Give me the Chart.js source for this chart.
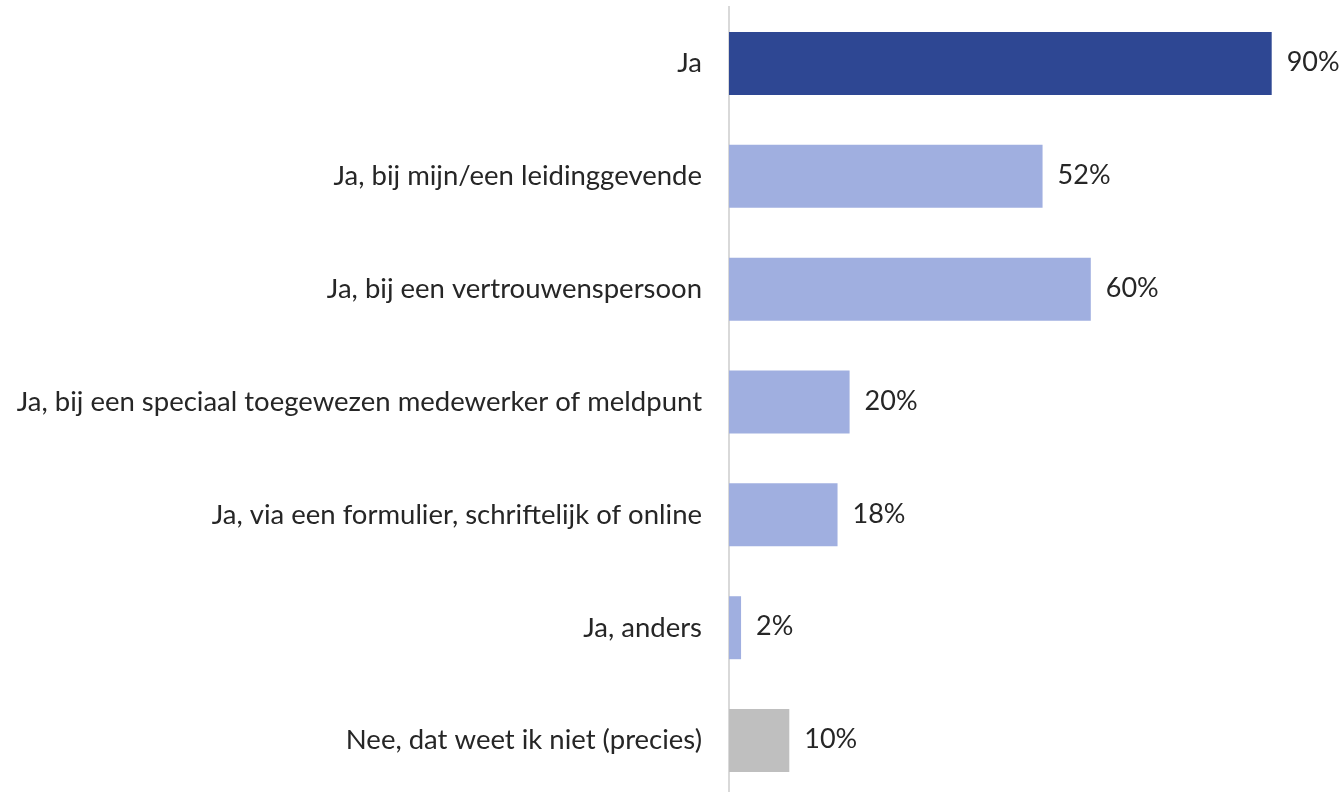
<!DOCTYPE html>
<html>
<head>
<meta charset="utf-8">
<script src="https://cdn.jsdelivr.net/npm/chart.js@4.4.1/dist/chart.umd.min.js"></script>
<style>
  html, body { margin: 0; padding: 0; background: #ffffff; overflow: hidden; }
  #wrap { width: 1342px; height: 797px; position: relative; }
</style>
</head>
<body>
<div id="wrap"><canvas id="chart"></canvas></div>
<script>
const categories = [
  'Ja',
  'Ja, bij mijn/een leidinggevende',
  'Ja, bij een vertrouwenspersoon',
  'Ja, bij een speciaal toegewezen medewerker of meldpunt',
  'Ja, via een formulier, schriftelijk of online',
  'Ja, anders',
  'Nee, dat weet ik niet (precies)'
];
const percentages = [90, 52, 60, 20, 18, 2, 10];
const barColors = ['#2E4793', '#A0AFE0', '#A0AFE0', '#A0AFE0', '#A0AFE0', '#A0AFE0', '#BFBFBF'];

const FONT = 'Lato, "Open Sans", sans-serif';
const FONT_SIZE = 27.5;
const TEXT = '#262626';

// Writes "NN%" just past the end of each bar
const valueLabels = {
  id: 'valueLabels',
  afterDatasetsDraw(chart) {
    const ctx = chart.ctx;
    const meta = chart.getDatasetMeta(0);
    ctx.save();
    ctx.font = '27px ' + FONT;
    ctx.fillStyle = TEXT;
    ctx.textAlign = 'left';
    ctx.textBaseline = 'middle';
    meta.data.forEach((bar, i) => {
      ctx.fillText(percentages[i] + '%', bar.x + 15, bar.y - 1);
    });
    ctx.restore();
  }
};

new Chart(document.getElementById('chart'), {
  type: 'bar',
  data: {
    labels: categories,
    datasets: [{
      data: percentages,
      backgroundColor: barColors,
      borderWidth: 0,
      categoryPercentage: 1,
      barPercentage: 0.558
    }]
  },
  options: {
    indexAxis: 'y',
    responsive: true,
    maintainAspectRatio: false,
    animation: false,
    layout: { padding: { top: 7, right: 10, bottom: 0, left: 0 } },
    plugins: {
      legend: { display: false },
      tooltip: { enabled: false }
    },
    scales: {
      x: {
        display: false,
        min: 0,
        max: 100
      },
      y: {
        grid: { display: false, drawTicks: false },
        border: { display: true, color: '#D9D9D9', width: 2 },
        ticks: {
          color: TEXT,
          padding: 27,
          font: { family: FONT, size: FONT_SIZE }
        },
        afterFit(scale) {
          scale.width = 729;
          scale.paddingTop = 0;
          scale.paddingBottom = 0;
        }
      }
    }
  },
  plugins: [valueLabels]
});
</script>
</body>
</html>
